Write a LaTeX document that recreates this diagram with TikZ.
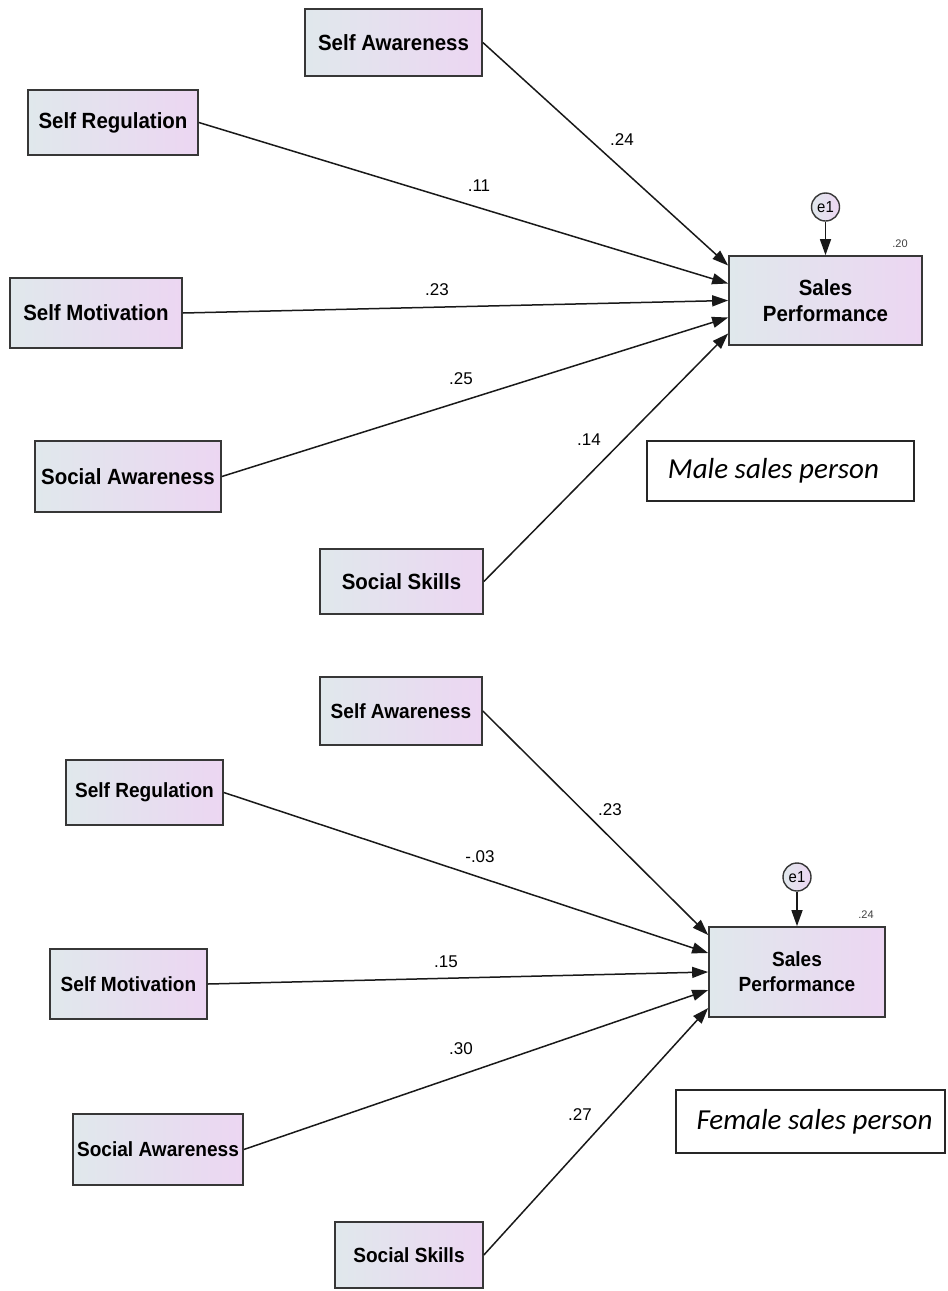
\documentclass[tikz,border=0pt]{standalone}
\usepackage{fontspec}
\setmainfont{Liberation Sans}
\newfontfamily\boxfont[FakeStretch=0.93]{Liberation Sans}
\newfontfamily\notefont{Carlito}
\usetikzlibrary{arrows.meta,calc}
\definecolor{boxleft}{RGB}{224,232,236}
\definecolor{boxright}{RGB}{236,214,242}
\definecolor{boxline}{RGB}{55,55,55}
\begin{document}
\begin{tikzpicture}[x=1pt,y=-1pt,
  varbox/.style={draw=boxline,line width=1.7pt,left color=boxleft,right color=boxright,
    inner sep=0pt,align=center,font=\boxfont\bfseries\fontsize{22}{26}\selectfont},
  varboxs/.style={varbox,font=\boxfont\bfseries\fontsize{20.5}{25}\selectfont},
  errc/.style={circle,draw=boxline,line width=1.4pt,left color=boxleft,right color=boxright,
    minimum size=28pt,inner sep=0pt,font=\boxfont\fontsize{16}{16}\selectfont},
  path/.style={draw=black!90,line width=1.5pt,-{Triangle[length=16pt,width=11pt]}},
  coef/.style={font=\fontsize{17}{17}\selectfont,inner sep=0pt},
  rsq/.style={font=\fontsize{11}{11}\selectfont,text=black!75,inner sep=0pt},
  note/.style={draw=black!85,line width=1.2pt,fill=white,inner sep=0pt,
    font=\notefont\itshape\fontsize{29}{31}\selectfont}]
\useasboundingbox[fill=white] (0,0) rectangle (948,1291);

% ---------- male model ----------
\node[varbox,minimum width=177pt,minimum height=67pt] (sa1) at (393.5,42.5) {Self Awareness};
\node[varbox,minimum width=170pt,minimum height=65pt] (sr1) at (113,122.5) {Self Regulation};
\node[varbox,minimum width=172pt,minimum height=70pt] (sm1) at (96,313) {Self Motivation};
\node[varbox,minimum width=186pt,minimum height=71pt] (sw1) at (128,476.5) {Social Awareness};
\node[varbox,minimum width=163pt,minimum height=65pt] (ss1) at (401.5,581.5) {Social Skills};
\node[varbox,minimum width=193pt,minimum height=89pt] (sp1) at (825.5,300.5) {Sales\\Performance};
\node[errc] (e1a) at (825.5,207) {e1};
\node[rsq] (r1) at (900,244) {.20};
\node[note,minimum width=267pt,minimum height=60pt] (m1) at (780.5,471) {\hspace*{-14pt}Male sales person};

\draw[path] (e1a) -- (sp1.north);
\draw[path] (sa1.east) -- ([yshift=35pt]sp1.west);
\draw[path] (sr1.east) -- ([yshift=17pt]sp1.west);
\draw[path] (sm1.east) -- (sp1.west);
\draw[path] (sw1.east) -- ([yshift=-17pt]sp1.west);
\draw[path] (ss1.east) -- ([yshift=-33pt]sp1.west);

\node[coef] (c11) at (622,140) {.24};
\node[coef] (c12) at (479,186) {.11};
\node[coef] (c13) at (437,290) {.23};
\node[coef] (c14) at (461,379) {.25};
\node[coef] (c15) at (589,440) {.14};

% ---------- female model ----------
\node[varboxs,minimum width=162pt,minimum height=68pt] (sa2) at (401,711) {Self Awareness};
\node[varboxs,minimum width=157pt,minimum height=65pt] (sr2) at (144.5,792.5) {Self Regulation};
\node[varboxs,minimum width=157pt,minimum height=70pt] (sm2) at (128.5,984) {Self Motivation};
\node[varboxs,minimum width=170pt,minimum height=71pt] (sw2) at (158,1149.5) {Social Awareness};
\node[varboxs,minimum width=148pt,minimum height=66pt] (ss2) at (409,1255) {Social Skills};
\node[varboxs,minimum width=176pt,minimum height=90pt] (sp2) at (797,972) {Sales\\Performance};
\node[errc] (e1b) at (797,877) {e1};
\node[rsq] (r2) at (866,915) {.24};
\node[note,minimum width=269pt,minimum height=63pt] (f1) at (810.5,1121.5) {\hspace*{8pt}Female sales person};

\draw[path] (e1b) -- (sp2.north);
\draw[path] (sa2.east) -- ([yshift=37pt]sp2.west);
\draw[path] (sr2.east) -- ([yshift=19pt]sp2.west);
\draw[path] (sm2.east) -- (sp2.west);
\draw[path] (sw2.east) -- ([yshift=-18pt]sp2.west);
\draw[path] (ss2.east) -- ([yshift=-36pt]sp2.west);

\node[coef] (c21) at (610,810) {.23};
\node[coef] (c22) at (480,857) {-.03};
\node[coef] (c23) at (446,962) {.15};
\node[coef] (c24) at (461,1049) {.30};
\node[coef] (c25) at (580,1115) {.27};
\end{tikzpicture}
\end{document}
